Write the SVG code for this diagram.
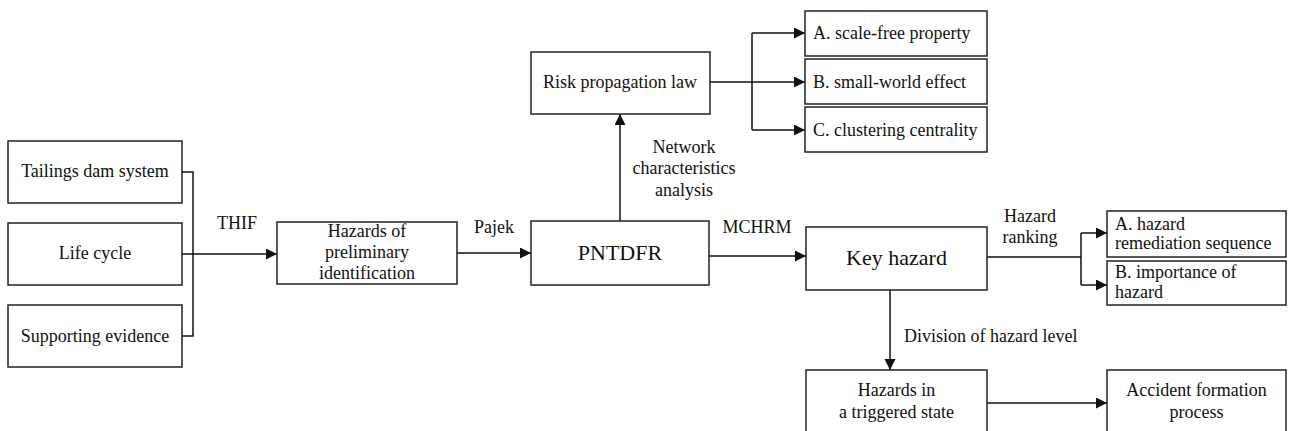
<svg xmlns="http://www.w3.org/2000/svg" width="1293" height="431" viewBox="0 0 1293 431">
  <defs>
    <marker id="arrow" markerUnits="userSpaceOnUse" markerWidth="12" markerHeight="12" refX="11" refY="5.5" orient="auto">
      <path d="M0,0 L11,5.5 L0,11 z" fill="#111"/>
    </marker>
    <style>
      rect.box { fill: #fff; stroke: #222; stroke-width: 1.5; }
      .conn { fill: none; stroke: #111; stroke-width: 1.5; }
      text { font-family: "Liberation Serif", "Times New Roman", serif; font-size: 18px; fill: #111; }
      .mid { text-anchor: middle; }
      .big { font-size: 22px; }
    </style>
  </defs>
  <rect width="1293" height="431" fill="#fff"/>

  <!-- connectors -->
  <g id="connectors">
    <!-- bracket joining the three inputs -->
    <path class="conn" d="M182,172 H193 V336 H182 M182,254 H193"/>
    <path class="conn" d="M193,254 H277" marker-end="url(#arrow)"/>
    <path class="conn" d="M457,253 H531" marker-end="url(#arrow)"/>
    <path class="conn" d="M620,221 V114" marker-end="url(#arrow)"/>
    <path class="conn" d="M710,82 H752"/>
    <path class="conn" d="M752,33 V130"/>
    <path class="conn" d="M752,33 H805" marker-end="url(#arrow)"/>
    <path class="conn" d="M752,82 H805" marker-end="url(#arrow)"/>
    <path class="conn" d="M752,130 H805" marker-end="url(#arrow)"/>
    <path class="conn" d="M709,256 H806" marker-end="url(#arrow)"/>
    <path class="conn" d="M987,257 H1081 M1081,233 V285"/>
    <path class="conn" d="M1081,233 H1107" marker-end="url(#arrow)"/>
    <path class="conn" d="M1081,285 H1107" marker-end="url(#arrow)"/>
    <path class="conn" d="M890,290 V370" marker-end="url(#arrow)"/>
    <path class="conn" d="M987,403 H1107" marker-end="url(#arrow)"/>

    <text class="mid" x="237" y="229">THIF</text>
    <text class="mid" x="494" y="233">Pajek</text>
    <text class="mid" x="684" y="153">Network</text>
    <text class="mid" x="684" y="174">characteristics</text>
    <text class="mid" x="684" y="196">analysis</text>
    <text class="mid" x="757" y="233">MCHRM</text>
    <text class="mid" x="1030" y="222">Hazard</text>
    <text class="mid" x="1030" y="243">ranking</text>
    <text x="904" y="342">Division of hazard level</text>
  </g>

  <g id="tailings-dam-system">
    <rect class="box" x="8" y="141" width="174" height="62"/>
    <text class="mid" x="95" y="177">Tailings dam system</text>
  </g>
  <g id="life-cycle">
    <rect class="box" x="8" y="223" width="174" height="62"/>
    <text class="mid" x="95" y="259">Life cycle</text>
  </g>
  <g id="supporting-evidence">
    <rect class="box" x="8" y="305" width="174" height="62"/>
    <text class="mid" x="95" y="342">Supporting evidence</text>
  </g>

  <g id="preliminary-hazards">
    <rect class="box" x="277" y="222" width="180" height="62"/>
    <text class="mid" x="367" y="237">Hazards of</text>
    <text class="mid" x="367" y="258">preliminary</text>
    <text class="mid" x="367" y="279">identification</text>
  </g>

  <g id="pntdfr">
    <rect class="box" x="531" y="221" width="178" height="64"/>
    <text class="mid big" x="620" y="260">PNTDFR</text>
  </g>

  <g id="risk-propagation-law">
    <rect class="box" x="531" y="52" width="179" height="62"/>
    <text class="mid" x="620" y="88">Risk propagation law</text>
  </g>

  <g id="scale-free">
    <rect class="box" x="805" y="11" width="182" height="45"/>
    <text x="813" y="39">A. scale-free property</text>
  </g>
  <g id="small-world">
    <rect class="box" x="805" y="59" width="182" height="45"/>
    <text x="813" y="88">B. small-world effect</text>
  </g>
  <g id="clustering">
    <rect class="box" x="805" y="107" width="182" height="45"/>
    <text x="813" y="136">C. clustering centrality</text>
  </g>

  <g id="key-hazard">
    <rect class="box" x="806" y="227" width="181" height="63"/>
    <text class="mid big" x="896.5" y="265">Key hazard</text>
  </g>

  <g id="remediation-sequence">
    <rect class="box" x="1107" y="211" width="179" height="46"/>
    <text x="1115" y="230">A. hazard</text>
    <text x="1115" y="249">remediation sequence</text>
  </g>
  <g id="hazard-importance">
    <rect class="box" x="1107" y="261" width="179" height="44"/>
    <text x="1115" y="278">B. importance of</text>
    <text x="1115" y="298">hazard</text>
  </g>

  <g id="triggered-hazards">
    <rect class="box" x="806" y="370" width="181" height="64"/>
    <text class="mid" x="896.5" y="396">Hazards in</text>
    <text class="mid" x="896.5" y="418">a triggered state</text>
  </g>
  <g id="accident-formation">
    <rect class="box" x="1107" y="370" width="179" height="64"/>
    <text class="mid" x="1196.5" y="396">Accident formation</text>
    <text class="mid" x="1196.5" y="418">process</text>
  </g>
</svg>
